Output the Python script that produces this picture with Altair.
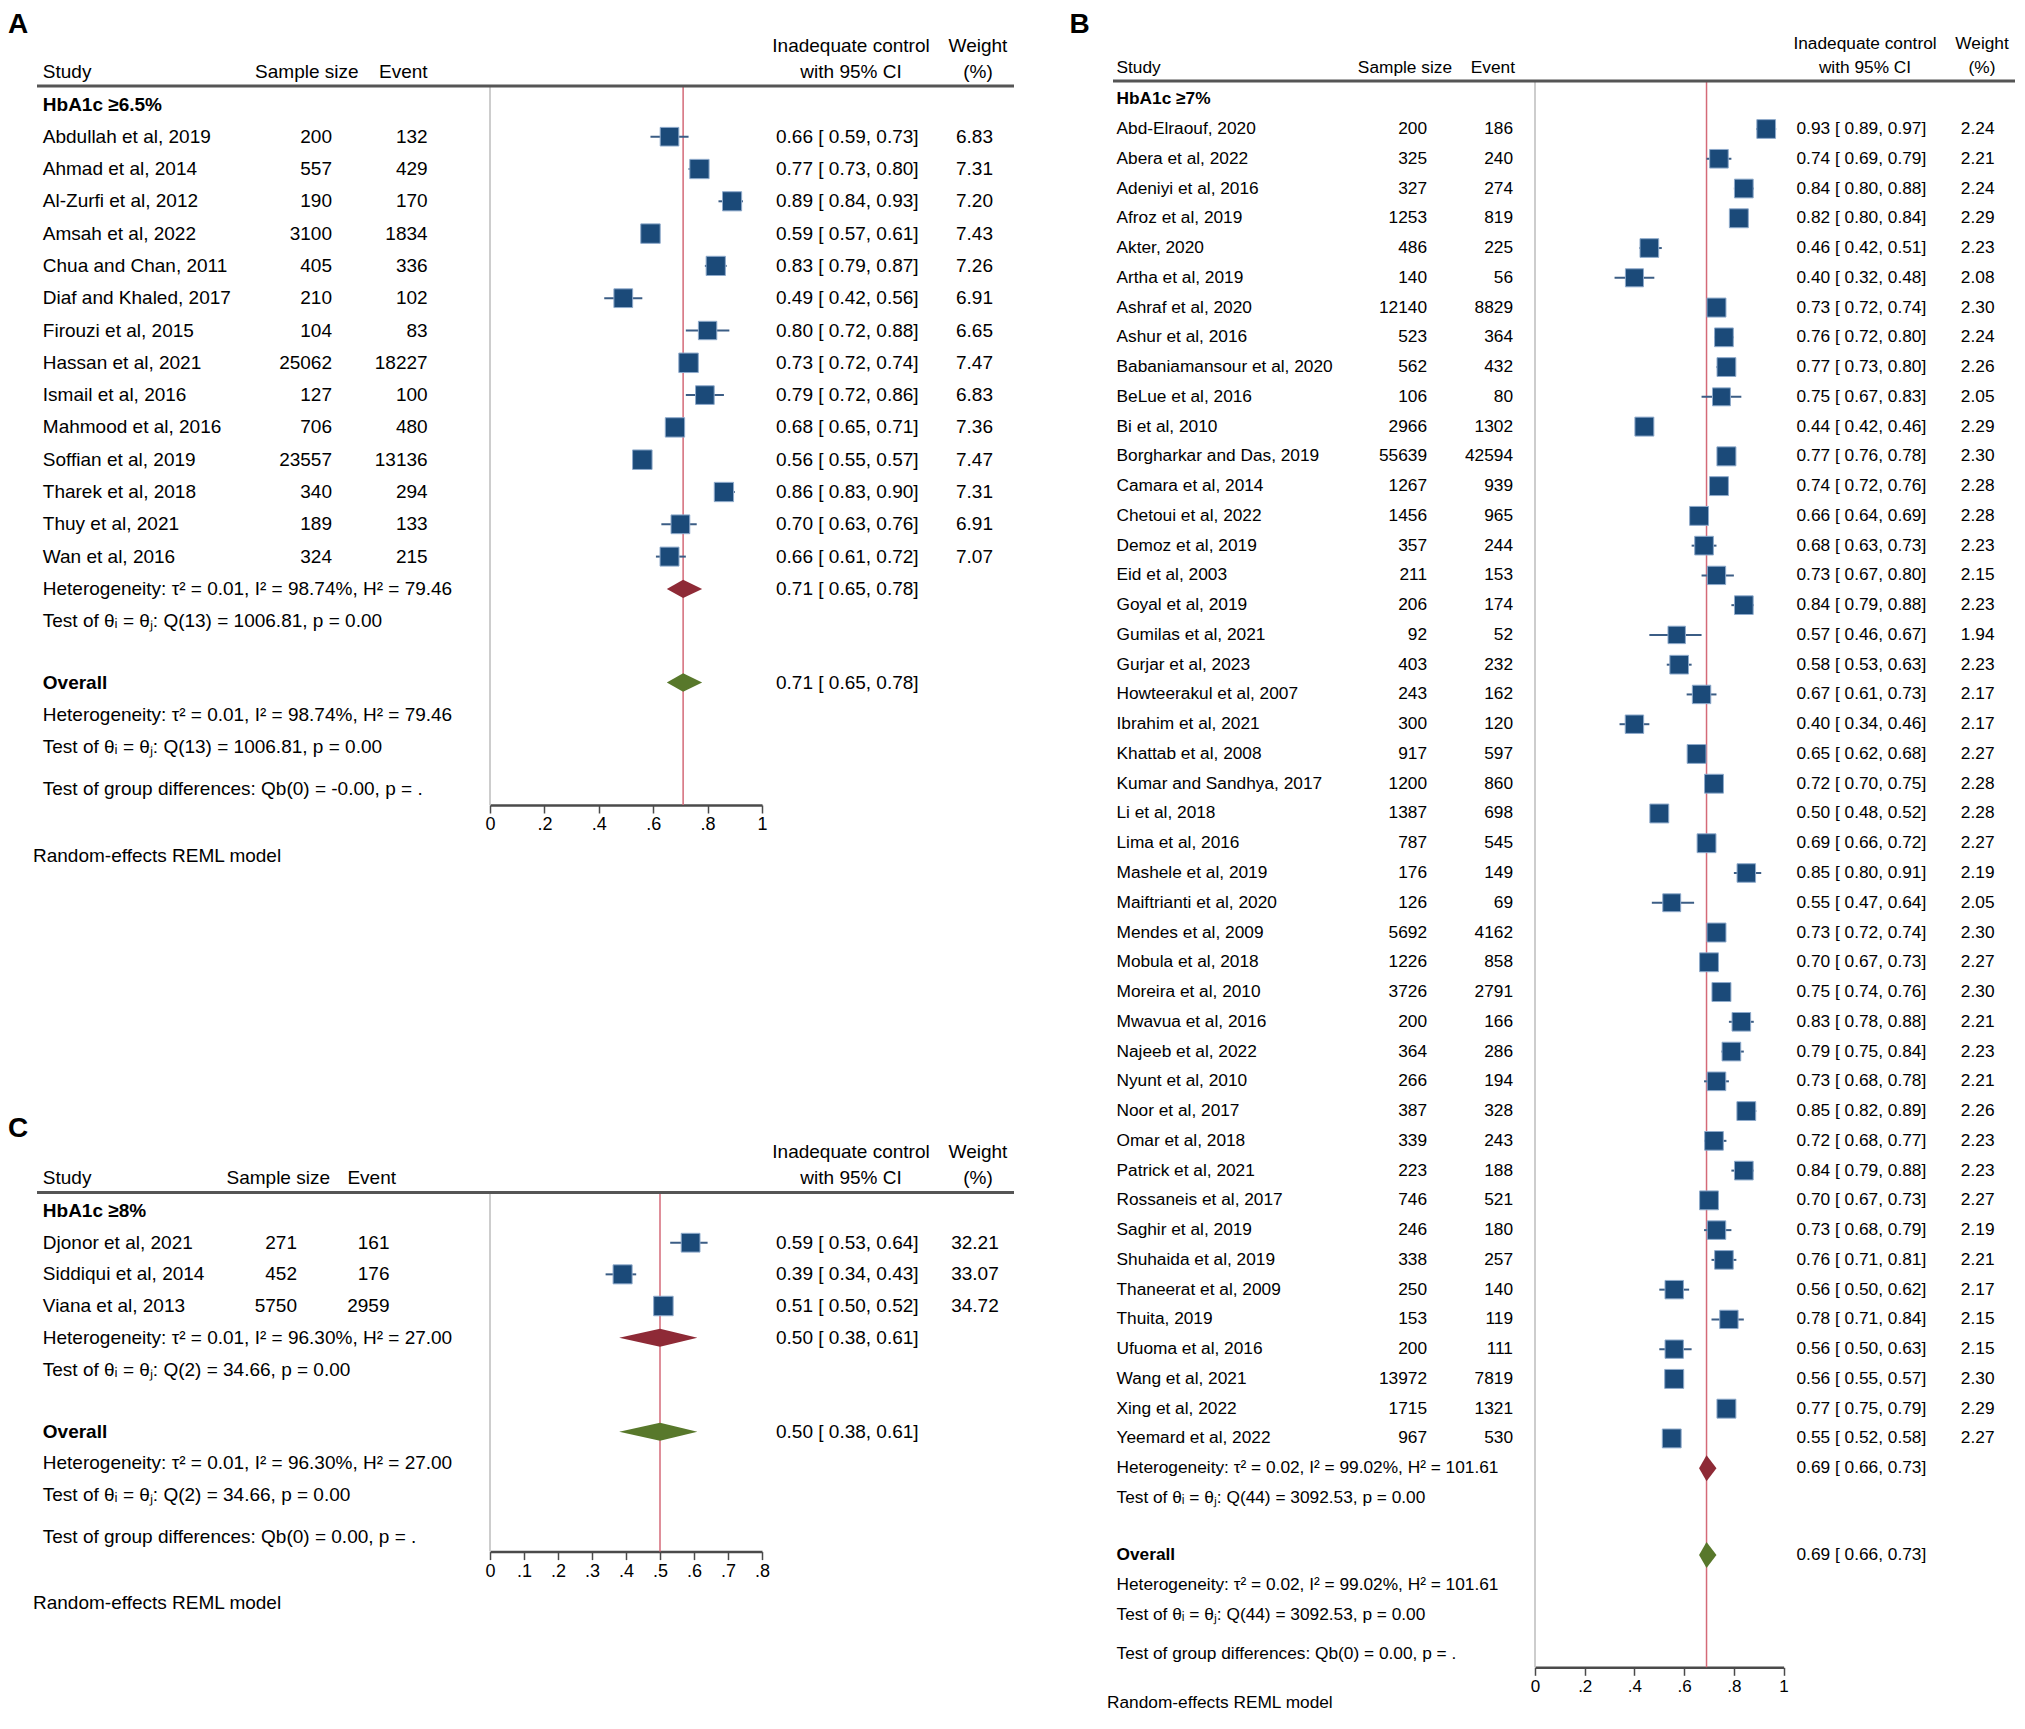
import altair as alt
import pandas as pd

FONT = "Liberation Sans"
NAVY = "#1b4a79"
SQ_EDGE = "#8eaacb"
CI_COL = "#3b5d85"
SUB_COL = "#8e2a36"
OVR_COL = "#58782b"
REF_COL = "#d46a78"
ZERO_COL = "#bdbdbd"
AX_COL = "#4a4a4a"

# ---------------- Panel A : HbA1c >= 6.5% ----------------
A_STUDY = ["Abdullah et al, 2019", "Ahmad et al, 2014", "Al-Zurfi et al, 2012", "Amsah et al, 2022",
           "Chua and Chan, 2011", "Diaf and Khaled, 2017", "Firouzi et al, 2015", "Hassan et al, 2021",
           "Ismail et al, 2016", "Mahmood et al, 2016", "Soffian et al, 2019", "Tharek et al, 2018",
           "Thuy et al, 2021", "Wan et al, 2016"]
A_N = [200, 557, 190, 3100, 405, 210, 104, 25062, 127, 706, 23557, 340, 189, 324]
A_EVENT = [132, 429, 170, 1834, 336, 102, 83, 18227, 100, 480, 13136, 294, 133, 215]
A_EST = [0.66, 0.77, 0.89, 0.59, 0.83, 0.49, 0.80, 0.73, 0.79, 0.68, 0.56, 0.86, 0.70, 0.66]
A_LO = [0.59, 0.73, 0.84, 0.57, 0.79, 0.42, 0.72, 0.72, 0.72, 0.65, 0.55, 0.83, 0.63, 0.61]
A_HI = [0.73, 0.80, 0.93, 0.61, 0.87, 0.56, 0.88, 0.74, 0.86, 0.71, 0.57, 0.90, 0.76, 0.72]
A_WEIGHT = [6.83, 7.31, 7.20, 7.43, 7.26, 6.91, 6.65, 7.47, 6.83, 7.36, 7.47, 7.31, 6.91, 7.07]
A_SUB = [0.71, 0.65, 0.78]
A_OVERALL = [0.71, 0.65, 0.78]
A_HET = "Heterogeneity: \u03c4\u00b2 = 0.01, I\u00b2 = 98.74%, H\u00b2 = 79.46"
A_TEST = "Test of \u03b8\u1d62 = \u03b8\u2c7c: Q(13) = 1006.81, p = 0.00"
A_GROUP = "Test of group differences: Qb(0) = -0.00, p = ."
A_TITLE = "HbA1c \u22656.5%"
A_TICKS = [0, 0.2, 0.4, 0.6, 0.8, 1]
A_TICK_LABELS = ["0", ".2", ".4", ".6", ".8", "1"]

# ---------------- Panel B : HbA1c >= 7% ----------------
B_STUDY = ["Abd-Elraouf, 2020", "Abera et al, 2022", "Adeniyi et al, 2016", "Afroz et al, 2019",
           "Akter, 2020", "Artha et al, 2019", "Ashraf et al, 2020", "Ashur et al, 2016",
           "Babaniamansour et al, 2020", "BeLue et al, 2016", "Bi et al, 2010",
           "Borgharkar and Das, 2019", "Camara et al, 2014", "Chetoui et al, 2022", "Demoz et al, 2019",
           "Eid et al, 2003", "Goyal et al, 2019", "Gumilas et al, 2021", "Gurjar et al, 2023",
           "Howteerakul et al, 2007", "Ibrahim et al, 2021", "Khattab et al, 2008",
           "Kumar and Sandhya, 2017", "Li et al, 2018", "Lima et al, 2016", "Mashele et al, 2019",
           "Maiftrianti et al, 2020", "Mendes et al, 2009", "Mobula et al, 2018", "Moreira et al, 2010",
           "Mwavua et al, 2016", "Najeeb et al, 2022", "Nyunt et al, 2010", "Noor et al, 2017",
           "Omar et al, 2018", "Patrick et al, 2021", "Rossaneis et al, 2017", "Saghir et al, 2019",
           "Shuhaida et al, 2019", "Thaneerat et al, 2009", "Thuita, 2019", "Ufuoma et al, 2016",
           "Wang et al, 2021", "Xing et al, 2022", "Yeemard et al, 2022"]
B_N = [200, 325, 327, 1253, 486, 140, 12140, 523, 562, 106, 2966, 55639, 1267, 1456, 357, 211, 206,
       92, 403, 243, 300, 917, 1200, 1387, 787, 176, 126, 5692, 1226, 3726, 200, 364, 266, 387, 339,
       223, 746, 246, 338, 250, 153, 200, 13972, 1715, 967]
B_EVENT = [186, 240, 274, 819, 225, 56, 8829, 364, 432, 80, 1302, 42594, 939, 965, 244, 153, 174,
           52, 232, 162, 120, 597, 860, 698, 545, 149, 69, 4162, 858, 2791, 166, 286, 194, 328, 243,
           188, 521, 180, 257, 140, 119, 111, 7819, 1321, 530]
B_EST = [0.93, 0.74, 0.84, 0.82, 0.46, 0.40, 0.73, 0.76, 0.77, 0.75, 0.44, 0.77, 0.74, 0.66, 0.68,
         0.73, 0.84, 0.57, 0.58, 0.67, 0.40, 0.65, 0.72, 0.50, 0.69, 0.85, 0.55, 0.73, 0.70, 0.75,
         0.83, 0.79, 0.73, 0.85, 0.72, 0.84, 0.70, 0.73, 0.76, 0.56, 0.78, 0.56, 0.56, 0.77, 0.55]
B_LO = [0.89, 0.69, 0.80, 0.80, 0.42, 0.32, 0.72, 0.72, 0.73, 0.67, 0.42, 0.76, 0.72, 0.64, 0.63,
        0.67, 0.79, 0.46, 0.53, 0.61, 0.34, 0.62, 0.70, 0.48, 0.66, 0.80, 0.47, 0.72, 0.67, 0.74,
        0.78, 0.75, 0.68, 0.82, 0.68, 0.79, 0.67, 0.68, 0.71, 0.50, 0.71, 0.50, 0.55, 0.75, 0.52]
B_HI = [0.97, 0.79, 0.88, 0.84, 0.51, 0.48, 0.74, 0.80, 0.80, 0.83, 0.46, 0.78, 0.76, 0.69, 0.73,
        0.80, 0.88, 0.67, 0.63, 0.73, 0.46, 0.68, 0.75, 0.52, 0.72, 0.91, 0.64, 0.74, 0.73, 0.76,
        0.88, 0.84, 0.78, 0.89, 0.77, 0.88, 0.73, 0.79, 0.81, 0.62, 0.84, 0.63, 0.57, 0.79, 0.58]
B_WEIGHT = [2.24, 2.21, 2.24, 2.29, 2.23, 2.08, 2.30, 2.24, 2.26, 2.05, 2.29, 2.30, 2.28, 2.28, 2.23,
            2.15, 2.23, 1.94, 2.23, 2.17, 2.17, 2.27, 2.28, 2.28, 2.27, 2.19, 2.05, 2.30, 2.27, 2.30,
            2.21, 2.23, 2.21, 2.26, 2.23, 2.23, 2.27, 2.19, 2.21, 2.17, 2.15, 2.15, 2.30, 2.29, 2.27]
B_SUB = [0.69, 0.66, 0.73]
B_OVERALL = [0.69, 0.66, 0.73]
B_HET = "Heterogeneity: \u03c4\u00b2 = 0.02, I\u00b2 = 99.02%, H\u00b2 = 101.61"
B_TEST = "Test of \u03b8\u1d62 = \u03b8\u2c7c: Q(44) = 3092.53, p = 0.00"
B_GROUP = "Test of group differences: Qb(0) = 0.00, p = ."
B_TITLE = "HbA1c \u22657%"
B_TICKS = [0, 0.2, 0.4, 0.6, 0.8, 1]
B_TICK_LABELS = ["0", ".2", ".4", ".6", ".8", "1"]

# ---------------- Panel C : HbA1c >= 8% ----------------
C_STUDY = ["Djonor et al, 2021", "Siddiqui et al, 2014", "Viana et al, 2013"]
C_N = [271, 452, 5750]
C_EVENT = [161, 176, 2959]
C_EST = [0.59, 0.39, 0.51]
C_LO = [0.53, 0.34, 0.50]
C_HI = [0.64, 0.43, 0.52]
C_WEIGHT = [32.21, 33.07, 34.72]
C_SUB = [0.50, 0.38, 0.61]
C_OVERALL = [0.50, 0.38, 0.61]
C_HET = "Heterogeneity: \u03c4\u00b2 = 0.01, I\u00b2 = 96.30%, H\u00b2 = 27.00"
C_TEST = "Test of \u03b8\u1d62 = \u03b8\u2c7c: Q(2) = 34.66, p = 0.00"
C_GROUP = "Test of group differences: Qb(0) = 0.00, p = ."
C_TITLE = "HbA1c \u22658%"
C_TICKS = [0, 0.1, 0.2, 0.3, 0.4, 0.5, 0.6, 0.7, 0.8]
C_TICK_LABELS = ["0", ".1", ".2", ".3", ".4", ".5", ".6", ".7", ".8"]

MODEL_NOTE = "Random-effects REML model"
HEAD = dict(study="Study", n="Sample size", ev="Event", ci1="Inadequate control",
            ci2="with 95% CI", w1="Weight", w2="(%)")


def label_expr(ticks, labels):
    expr = "''"
    for t, l in reversed(list(zip(ticks, labels))):
        expr = f"abs(datum.value - {t}) < 1e-6 ? '{l}' : ({expr})"
    return expr


def build_panel(P, L):
    k = len(P["study"])
    R = L["rows"]
    ysc = alt.Scale(domain=[0, k - 1], range=[L["y0"], L["y0"] + (k - 1) * L["dy"]], nice=False, zero=False)
    xsc = alt.Scale(domain=[P["ticks"][0], P["ticks"][-1]], range=[L["x0"], L["x1"]], nice=False, zero=False)
    axis_px = L["y0"] + R["axis"] * L["dy"]
    xaxis = alt.Axis(values=P["ticks"], labelExpr=label_expr(P["ticks"], P["tick_labels"]), title=None,
                     orient="bottom", offset=axis_px - L["H"], grid=False, domainColor=AX_COL,
                     domainWidth=2.5, tickColor=AX_COL, tickWidth=1.5, tickSize=8, labelFont=FONT,
                     labelFontSize=L["afs"], labelColor="black", labelPadding=3, labelFlush=False,
                     labelOverlap=False, labelBound=False)

    def X(f):
        return alt.X(f, type="quantitative", scale=xsc, axis=xaxis)

    def Y(f):
        return alt.Y(f, type="quantitative", scale=ysc, axis=None)

    fs = L["fs"]

    def T(data, field, xpx, align="left", bold=False, size=None):
        return alt.Chart(data).mark_text(
            align=align, baseline="middle", font=FONT, fontSize=size or fs,
            fontWeight="bold" if bold else "normal", color="black"
        ).encode(x=alt.value(xpx), y=Y("row"), text=alt.Text(field + ":N"))

    def one(row, t):
        return pd.DataFrame({"row": [row], "t": [t]})

    wfield = "w" + P["letter"]
    df = pd.DataFrame({
        "row": list(range(k)),
        "study": P["study"],
        "n": [str(v) for v in P["n"]],
        "ev": [str(v) for v in P["ev"]],
        "est": P["est"], "lo": P["lo"], "hi": P["hi"], wfield: P["wt"],
        "ci": [f"{e:.2f} [ {l:.2f}, {h:.2f}]" for e, l, h in zip(P["est"], P["lo"], P["hi"])],
        "wl": [f"{w:.2f}" for w in P["wt"]],
    })

    layers = []
    vl = pd.DataFrame({"x": [P["ticks"][0]], "r1": [R["hline"]], "r2": [R["axis"]]})
    layers.append(alt.Chart(vl).mark_rule(color=ZERO_COL, strokeWidth=1.5).encode(
        x=X("x"), y=Y("r1"), y2=alt.Y2("r2")))
    rl = pd.DataFrame({"x": [P["overall"][0]], "r1": [R["hline"]], "r2": [R["axis"]]})
    layers.append(alt.Chart(rl).mark_rule(color=REF_COL, strokeWidth=1.5).encode(
        x=X("x"), y=Y("r1"), y2=alt.Y2("r2")))
    base = alt.Chart(df)
    layers.append(base.mark_rule(color=CI_COL, strokeWidth=2).encode(
        x=X("lo"), x2=alt.X2("hi"), y=Y("row")))
    layers.append(base.mark_square(filled=True, color=NAVY, stroke=SQ_EDGE, strokeWidth=1, opacity=1).encode(
        x=X("est"), y=Y("row"),
        size=alt.Size(wfield + ":Q", scale=alt.Scale(domain=[0, max(P["wt"])], range=[0, L["sq"]]),
                      legend=None)))

    def diamond(vals, row, color):
        e, l, h = vals
        hh = L["dh"] / L["dy"]
        d = pd.DataFrame({"x": [l, e, h], "ya": [row, row - hh, row], "yb": [row, row + hh, row]})
        return alt.Chart(d).mark_area(color=color, opacity=1).encode(x=X("x"), y=Y("ya"), y2=alt.Y2("yb"))

    layers.append(diamond(P["sub"], R["het"], SUB_COL))
    layers.append(diamond(P["overall"], R["overall"], OVR_COL))

    layers.append(alt.Chart(pd.DataFrame({"row": [R["hline"]]})).mark_rule(color="#555555", strokeWidth=3).encode(
        x=alt.value(L["hl0"]), x2=alt.value(L["hl1"]), y=Y("row")))

    # panel letter (top-anchored so it stays inside the panel)
    layers.append(alt.Chart(pd.DataFrame({"t": [P["letter"]]})).mark_text(
        align="left", baseline="top", font=FONT, fontSize=28, fontWeight="bold", color="black"
    ).encode(x=alt.value(L["xl"]), y=alt.value(L["yl"]), text="t:N"))

    layers.append(T(one(R["study"], HEAD["study"]), "t", L["xs"]))
    layers.append(T(one(R["study"], HEAD["n"]), "t", L["xnh"], align="right"))
    layers.append(T(one(R["study"], HEAD["ev"]), "t", L["xeh"], align="right"))
    layers.append(T(one(R["inad"], HEAD["ci1"]), "t", L["xcc"], align="center"))
    layers.append(T(one(R["study"], HEAD["ci2"]), "t", L["xcc"], align="center"))
    layers.append(T(one(R["inad"], HEAD["w1"]), "t", L["xwh"], align="center"))
    layers.append(T(one(R["study"], HEAD["w2"]), "t", L["xwh"], align="center"))
    bold_df = pd.DataFrame({"row": [R["title"], R["overall"]], "t": [P["title"], "Overall"]})
    layers.append(T(bold_df, "t", L["xs"], bold=True))
    layers.append(T(df, "study", L["xs"]))
    layers.append(T(df, "n", L["xn"], align="right"))
    layers.append(T(df, "ev", L["xe"], align="right"))
    layers.append(T(df, "ci", L["xci"]))
    layers.append(T(df, "wl", L["xw"], align="right"))
    sum_df = pd.DataFrame({"row": [R["het"], R["overall"]],
                           "t": [f"{P['sub'][0]:.2f} [ {P['sub'][1]:.2f}, {P['sub'][2]:.2f}]",
                                 f"{P['overall'][0]:.2f} [ {P['overall'][1]:.2f}, {P['overall'][2]:.2f}]"]})
    layers.append(T(sum_df, "t", L["xci"]))
    foot = pd.DataFrame({"row": [R["het"], R["test"], R["het2"], R["test2"], R["group"]],
                         "t": [P["het"], P["test"], P["het"], P["test"], P["group"]]})
    layers.append(T(foot, "t", L["xs"]))
    layers.append(T(one(R["rand"], MODEL_NOTE), "t", L["xr"]))

    return alt.layer(*layers).properties(width=L["W"], height=L["H"])


PA = dict(letter="A", title=A_TITLE, study=A_STUDY, n=A_N, ev=A_EVENT, est=A_EST, lo=A_LO, hi=A_HI,
          wt=A_WEIGHT, sub=A_SUB, overall=A_OVERALL, het=A_HET, test=A_TEST, group=A_GROUP,
          ticks=A_TICKS, tick_labels=A_TICK_LABELS)
PB = dict(letter="B", title=B_TITLE, study=B_STUDY, n=B_N, ev=B_EVENT, est=B_EST, lo=B_LO, hi=B_HI,
          wt=B_WEIGHT, sub=B_SUB, overall=B_OVERALL, het=B_HET, test=B_TEST, group=B_GROUP,
          ticks=B_TICKS, tick_labels=B_TICK_LABELS)
PC = dict(letter="C", title=C_TITLE, study=C_STUDY, n=C_N, ev=C_EVENT, est=C_EST, lo=C_LO, hi=C_HI,
          wt=C_WEIGHT, sub=C_SUB, overall=C_OVERALL, het=C_HET, test=C_TEST, group=C_GROUP,
          ticks=C_TICKS, tick_labels=C_TICK_LABELS)

LA = dict(W=1032, H=862, y0=128.7, dy=32.3, x0=482, x1=754, fs=19, afs=18, dh=9.2, sq=380,
          xl=0, yl=3, xs=34.8, xnh=350.6, xn=324, xeh=419.6, xe=419.6, xci=768, xcc=843, xwh=970, xw=985,
          hl0=29, hl1=1006, xr=25,
          rows=dict(inad=-2.82, study=-2.01, hline=-1.57, title=-0.98, het=14.0, test=15.0,
                    overall=16.9, het2=17.9, test2=18.9, group=20.2, axis=20.69, rand=22.27))
LC = dict(W=1032, H=844, y0=372.7, dy=31.65, x0=482, x1=754, fs=19, afs=18, dh=9.0, sq=380,
          xl=0, yl=245, xs=34.8, xnh=322, xn=289, xeh=388, xe=381.5, xci=768, xcc=843, xwh=970, xw=990.7,
          hl0=29, hl1=1006, xr=25,
          rows=dict(inad=-2.87, study=-2.03, hline=-1.59, title=-1.0, het=3.0, test=4.02,
                    overall=5.97, het2=6.97, test2=7.97, group=9.29, axis=9.76, rand=11.39))
LB = dict(W=977, H=1706, y0=121, dy=29.76, x0=495, x1=743.6, fs=17.3, afs=17, dh=13, sq=360,
          xl=29.5, yl=3, xs=76.5, xnh=412, xn=387, xeh=475, xe=473, xci=756.5, xcc=825, xwh=942, xw=954.5,
          hl0=73, hl1=975, xr=67,
          rows=dict(inad=-2.85, study=-2.06, hline=-1.61, title=-1.0, het=45.0, test=46.01,
                    overall=47.92, het2=48.93, test2=49.93, group=51.25, axis=51.69, rand=52.9))

panelA = build_panel(PA, LA)
panelC = build_panel(PC, LC)
panelB = build_panel(PB, LB)

left = alt.vconcat(panelA, panelC, spacing=0).resolve_scale(size="independent")
chart = (alt.hconcat(left, panelB, spacing=0)
         .resolve_scale(size="independent")
         .properties(padding=0, background="white")
         .configure_view(stroke="transparent", strokeWidth=0))

chart.save("out.html", embed_options={"renderer": "svg", "actions": False})
